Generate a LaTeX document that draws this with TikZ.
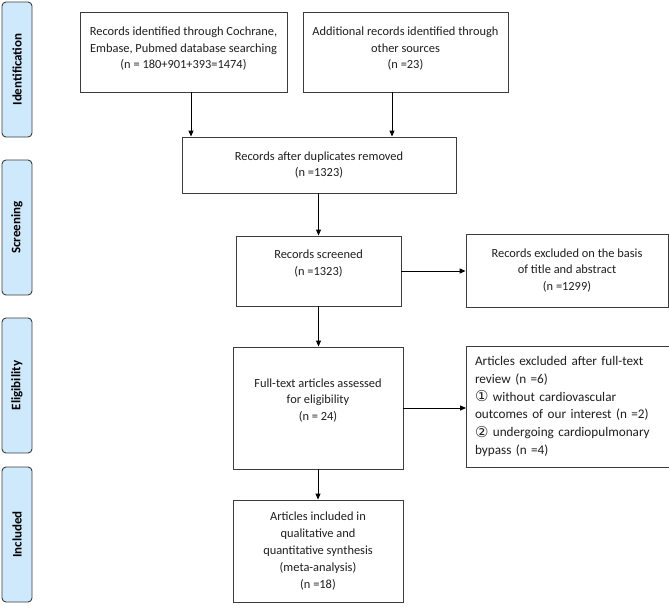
\documentclass[tikz,border=0pt]{standalone}
\usepackage{fontspec}
\setmainfont{Carlito}
\newfontfamily\symfont{DejaVu Sans}
\usetikzlibrary{arrows.meta,calc}
\definecolor{phasefill}{RGB}{207,233,252}
\definecolor{edgegray}{RGB}{60,60,60}
\definecolor{txtgray}{RGB}{30,30,30}
\newcommand{\circnum}[1]{\raisebox{-0.5pt}{\symfont\fontsize{15}{17.7}\selectfont #1}}
\tikzset{
  box/.style={draw=edgegray, line width=0.9pt, rectangle, align=center, inner sep=2pt,
    text=txtgray, font=\fontsize{12.4}{16.8}\selectfont},
  phase/.style={draw=edgegray, line width=0.9pt, fill=phasefill, rounded corners=4pt,
    minimum width=30pt, rotate=90, text=black, font=\fontsize{13}{15}\selectfont\bfseries},
  arr/.style={draw=black, line width=0.9pt, -{Triangle[length=6pt,width=5pt]}}
}
\begin{document}
\begin{tikzpicture}[x=1pt,y=-1pt]
\useasboundingbox (0,0) rectangle (669,614);
% phase labels
\node[phase, minimum width=135pt, minimum height=30pt] (pid) at (17,69.5) {Identification};
\node[phase, minimum width=135pt, minimum height=30pt] (psc) at (17,227.5) {Screening};
\node[phase, minimum width=135pt, minimum height=30pt] (pel) at (17,385.5) {Eligibility};
\node[phase, minimum width=135pt, minimum height=30pt] (pin) at (17,534.5) {Included};
% boxes
\node[box, minimum width=207pt, minimum height=80pt] (b1) at (183.5,52)
  {Records identified through Cochrane,\\Embase, Pubmed database searching\\(n = 180+901+393=1474)\\[-8.4pt]\mbox{}};
\node[box, minimum width=205pt, minimum height=80pt] (b2) at (405.5,52)
  {Additional records identified through\\other sources\\(n =23)\\[-8.4pt]\mbox{}};
\node[box, minimum width=274pt, minimum height=56pt] (b3) at (319,165)
  {Records after duplicates removed\\(n =1323)};
\node[box, minimum width=165pt, minimum height=70pt] (b4) at (318.5,271)
  {Records screened\\(n =1323)\\\mbox{}};
\node[box, minimum width=202pt, minimum height=73pt] (b5) at (567,270.5)
  {Records excluded on the basis\\of title and abstract\\(n =1299)};
\node[box, minimum width=203pt, minimum height=121pt, text width=186pt, align=left,
  font=\fontsize{13.2}{17.7}\selectfont] (b6) at (568,406.5)
  {Articles excluded after full-text\\review (n =6)\\\circnum{①} without cardiovascular\\outcomes of our interest (n =2)\\\circnum{②} undergoing cardiopulmonary\\bypass (n =4)};
\node[box, minimum width=170pt, minimum height=122pt] (b7) at (318,408)
  {Full-text articles assessed\\for eligibility\\(n = 24)\\\mbox{}};
\node[box, minimum width=170pt, minimum height=102pt] (b8) at (318,551)
  {Articles included in\\qualitative and\\quantitative synthesis\\(meta-analysis)\\(n =18)};
% connectors
\draw[arr] ([xshift=7.5pt]b1.south) -- ([xshift=7.5pt]b1.south |- b3.north);
\draw[arr] ([xshift=-13.5pt]b2.south) -- ([xshift=-13.5pt]b2.south |- b3.north);
\draw[arr] (b3.south -| b4.north) -- (b4.north);
\draw[arr] (b4.east) -- (b4.east -| b5.west);
\draw[arr] (b4.south) -- (b4.south |- b7.north);
\draw[arr] (b7.east) -- (b7.east -| b6.west);
\draw[arr] (b7.south) -- (b8.north);
\end{tikzpicture}
\end{document}
